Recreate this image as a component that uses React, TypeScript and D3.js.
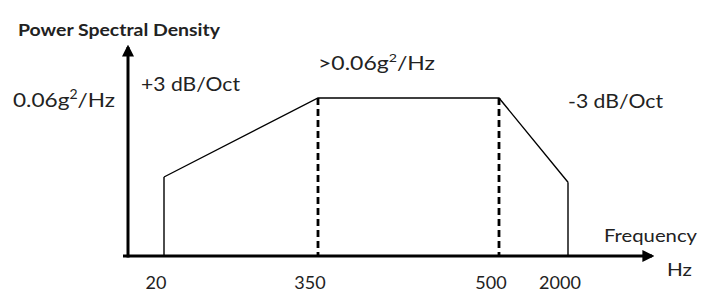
import React, { useEffect, useRef } from "react";
import * as d3 from "d3";

// frequency breakpoints of the profile (Hz)
const freqs = [20, 350, 500, 2000];
// PSD level at each breakpoint (g^2/Hz)
const levels = [0.03, 0.06, 0.06, 0.028];
// dashed markers at the plateau edges
const markerFreqs = [350, 500];
const tickLabels = ["20", "350", "500", "2000"];
const plateau = 0.06;

const App = () => {
  const ref = useRef<SVGSVGElement>(null);

  useEffect(() => {
    const root = d3.select(ref.current);
    root.selectAll("*").remove();

    const font = "Lato, 'Open Sans', sans-serif";
    const x0 = 128; // y axis position
    const yBase = 256; // x axis position

    // breakpoints are not spaced evenly, so a piecewise scale
    const x = d3.scaleLinear().domain(freqs).range([164, 318, 499, 568]);
    const y = d3.scaleLinear().domain([0, plateau]).range([yBase, 98]);

    // arrowheads
    const defs = root.append("defs");
    defs
      .append("marker")
      .attr("id", "arrow")
      .attr("viewBox", "0 0 10 10")
      .attr("refX", 8)
      .attr("refY", 5)
      .attr("markerWidth", 4)
      .attr("markerHeight", 4)
      .attr("markerUnits", "strokeWidth")
      .attr("orient", "auto")
      .append("path")
      .attr("d", "M0,0 L10,5 L0,10 Z")
      .style("fill", "black");

    // profile
    const line = d3
      .line<number>()
      .x((d, i) => x(freqs[i]))
      .y((d) => y(d));

    root
      .append("path")
      .attr("d", line([0, ...levels, 0].slice(1, -1)))
      .style("fill", "none")
      .style("stroke", "black")
      .style("stroke-width", 1.4);

    // vertical edges at 20 Hz and 2000 Hz
    [0, freqs.length - 1].forEach((i) => {
      root
        .append("line")
        .attr("x1", x(freqs[i]))
        .attr("x2", x(freqs[i]))
        .attr("y1", y(levels[i]))
        .attr("y2", y(0))
        .style("stroke", "black")
        .style("stroke-width", 1.4);
    });

    // dashed markers
    root
      .append("g")
      .selectAll("line")
      .data(markerFreqs)
      .join("line")
      .attr("x1", (d) => x(d))
      .attr("x2", (d) => x(d))
      .attr("y1", y(plateau))
      .attr("y2", y(0))
      .style("stroke", "black")
      .style("stroke-width", 2.8)
      .style("stroke-dasharray", "7,4");

    // axes with arrows
    root
      .append("line")
      .attr("x1", x0 - 5)
      .attr("x2", 652)
      .attr("y1", yBase)
      .attr("y2", yBase)
      .style("stroke", "black")
      .style("stroke-width", 3)
      .attr("marker-end", "url(#arrow)");

    root
      .append("line")
      .attr("x1", x0)
      .attr("x2", x0)
      .attr("y1", yBase + 1.5)
      .attr("y2", 47)
      .style("stroke", "black")
      .style("stroke-width", 3)
      .attr("marker-end", "url(#arrow)");

    // tick labels
    root
      .append("g")
      .selectAll("text")
      .data(freqs)
      .join("text")
      .attr("x", (d) => x(d) - 8)
      .attr("y", 289)
      .style("font-family", font)
      .style("font-size", "18px")
      .style("fill", "#222")
      .style("text-anchor", "middle")
      .text((d, i) => tickLabels[i]);

    const label = (
      tx: number,
      ty: number,
      size: number,
      width: number,
      parts: [string, boolean][],
      weight = "normal"
    ) => {
      const t = root
        .append("text")
        .attr("x", tx)
        .attr("y", ty)
        .attr("textLength", width)
        .attr("lengthAdjust", "spacingAndGlyphs")
        .style("font-family", font)
        .style("font-size", size + "px")
        .style("font-weight", weight)
        .style("fill", "#222");
      parts.forEach(([s, sup]) => {
        if (sup) {
          t.append("tspan")
            .attr("dy", -size * 0.42)
            .style("font-size", size * 0.62 + "px")
            .text(s);
        } else {
          t.append("tspan")
            .attr("dy", t.selectAll("tspan").size() > 0 ? size * 0.42 : 0)
            .text(s);
        }
      });
    };

    label(18, 29, 17, 202, [["Power Spectral Density", false]], "bold");
    label(13, 99, 20, 102, [["0.06g", false], ["2", true], ["/Hz", false]]);
    label(141, 83, 19, 99, [["+3 dB/Oct", false]]);
    label(318, 62, 19, 117, [[">0.06g", false], ["2", true], ["/Hz", false]]);
    label(568, 100, 19, 95, [["-3 dB/Oct", false]]);
    label(604, 235, 17, 93, [["Frequency", false]]);
    label(667, 268, 18, 25, [["Hz", false]]);
  }, []);

  return (
    <svg
      ref={ref}
      width={709}
      height={293}
      style={{ position: "absolute", left: 0, top: 0, background: "white" }}
    />
  );
};

export default App;
